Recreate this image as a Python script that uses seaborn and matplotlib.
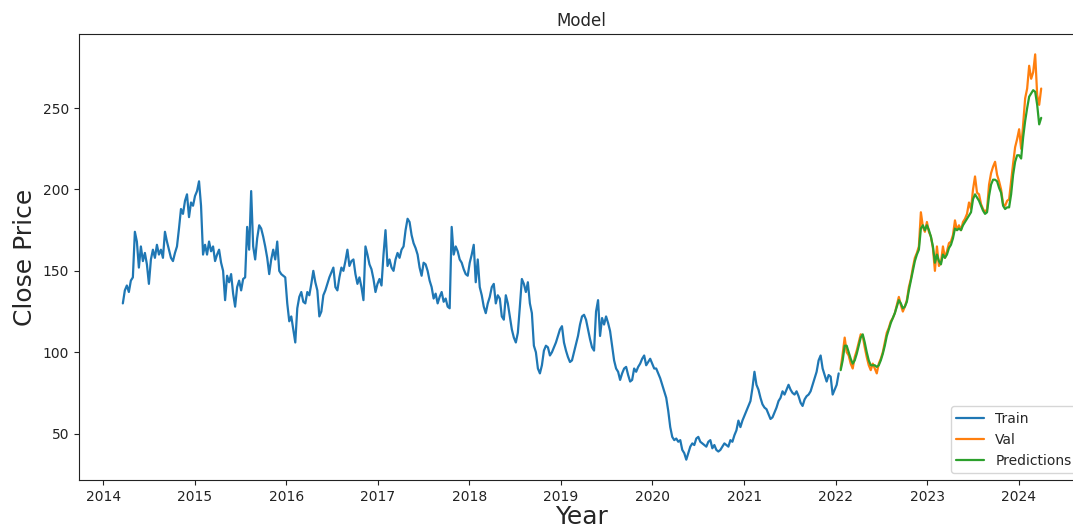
import numpy as np
import pandas as pd
import matplotlib
matplotlib.use("Agg")
import matplotlib.pyplot as plt
import seaborn as sns

# Close price, sampled every 8 days starting 2014-03-20 (training window)
train_close = [
    130, 138, 141, 137, 144, 146, 174, 168, 152, 165,
    156, 161, 154, 142, 157, 163, 158, 166, 160, 163,
    158, 174, 168, 163, 158, 156, 161, 165, 176, 188,
    185, 193, 197, 183, 192, 190, 196, 199, 205, 190,
    160, 166, 160, 168, 162, 165, 156, 160, 163, 155,
    150, 132, 147, 143, 148, 136, 128, 140, 144, 138,
    145, 146, 177, 163, 199, 165, 157, 170, 178, 176,
    171, 165, 158, 148, 157, 163, 157, 168, 150, 148,
    147, 146, 130, 119, 122, 114, 106, 127, 134, 137,
    131, 130, 137, 135, 142, 150, 143, 138, 122, 125,
    135, 138, 142, 146, 149, 152, 140, 138, 146, 152,
    150, 156, 163, 153, 156, 157, 148, 142, 146, 140,
    132, 165, 160, 154, 151, 145, 137, 142, 145, 141,
    160, 175, 153, 157, 152, 150, 157, 161, 158, 163,
    165, 175, 182, 180, 172, 167, 164, 160, 152, 147,
    155, 154, 150, 144, 140, 133, 136, 130, 134, 137,
    131, 133, 128, 127, 177, 160, 165, 162, 157, 155,
    151, 148, 147, 155, 160, 166, 143, 157, 140, 135,
    128, 124, 130, 134, 140, 142, 130, 135, 133, 122,
    120, 135, 130, 122, 114, 109, 106, 112, 128, 145,
    142, 137, 143, 130, 124, 104, 100, 90, 87, 92,
    101, 104, 103, 98, 100, 103, 106, 110, 114, 116,
    106, 101, 97, 94, 95, 100, 105, 110, 117, 122,
    123, 120, 114, 108, 103, 101, 125, 132, 110, 121,
    117, 122, 118, 113, 104, 95, 90, 88, 83, 87,
    90, 91, 86, 82, 83, 90, 88, 91, 93, 96,
    98, 92, 94, 96, 93, 90, 90, 87, 84, 80,
    76, 72, 64, 54, 48, 46, 47, 45, 46, 40,
    38, 34, 38, 42, 44, 43, 47, 48, 45, 44,
    43, 42, 45, 46, 41, 43, 40, 39, 40, 42,
    44, 43, 42, 46, 45, 49, 52, 58, 54, 58,
    61, 64, 67, 70, 78, 88, 80, 77, 72, 68,
    66, 65, 62, 59, 60, 63, 66, 70, 72, 76,
    74, 77, 80, 77, 75, 74, 76, 73, 69, 67,
    71, 73, 74, 76, 80, 84, 88, 95, 98, 90,
    86, 82, 86, 85, 74, 77, 80, 87,
]

# Validation window: actual close and model predictions
val_close = [
    90, 99, 109, 100, 98, 93, 90, 97, 101, 106,
    111, 110, 103, 97, 92, 89, 93, 90, 87, 93,
    96, 100, 106, 112, 115, 119, 121, 124, 129, 134,
    129, 125, 128, 132, 140, 145, 152, 158, 161, 165,
    186, 177, 174, 180, 174, 171, 164, 150, 165, 153,
    155, 165, 158, 162, 167, 168, 172, 181, 175, 178,
    175, 180, 182, 185, 192, 188, 200, 208, 198, 197,
    191, 188, 186, 188, 203, 210, 214, 217, 209, 205,
    200, 191, 190, 193, 194, 205, 216, 226, 231, 237,
    225, 240, 256, 262, 276, 268, 272, 283, 258, 252,
    262,
]

pred_close = [
    89, 95, 104, 104, 100, 96, 93, 95, 99, 104,
    109, 111, 106, 100, 95, 92, 92, 92, 91, 92,
    95, 99, 104, 110, 114, 118, 121, 124, 128, 132,
    130, 127, 128, 131, 138, 144, 150, 156, 160, 163,
    176, 178, 175, 178, 175, 171, 165, 155, 160, 156,
    154, 160, 158, 160, 164, 166, 170, 176, 175, 176,
    175, 178, 180, 182, 184, 186, 194, 197, 195, 193,
    190, 187, 185, 186, 196, 203, 206, 206, 205, 201,
    198, 190, 188, 189, 189, 197, 209, 217, 221, 221,
    219, 232, 242, 250, 257, 259, 261, 260, 252, 240,
    244,
]

train_dates = pd.date_range("2014-03-20", periods=len(train_close), freq="8D")
val_dates = pd.date_range(train_dates[-1] + pd.Timedelta(days=8),
                          periods=len(val_close), freq="8D")

train = pd.DataFrame({"Date": train_dates, "Close": train_close})
valid = pd.DataFrame({"Date": val_dates, "Close": val_close,
                      "Predictions": pred_close})

sns.set_style("ticks")
plt.rcParams["font.family"] = ["DejaVu Sans"]

fig = plt.figure(figsize=(10.73, 5.29), dpi=100)
ax = fig.add_axes([0.0736, 0.0926, 0.9367, 0.8431])

sns.lineplot(data=train, x="Date", y="Close", ax=ax, color="#1f77b4",
             linewidth=1.6, label="Train")
sns.lineplot(data=valid, x="Date", y="Close", ax=ax, color="#ff7f0e",
             linewidth=1.6, label="Val")
sns.lineplot(data=valid, x="Date", y="Predictions", ax=ax, color="#2ca02c",
             linewidth=1.6, label="Predictions")

ax.set_xlim(pd.Timestamp("2013-09-26"), pd.Timestamp("2024-09-18"))
ax.set_ylim(21.5, 295.5)
ax.set_yticks([50, 100, 150, 200, 250])
ax.xaxis.set_major_locator(matplotlib.dates.YearLocator())
ax.xaxis.set_major_formatter(matplotlib.dates.DateFormatter("%Y"))

ax.set_title("Model", fontsize=12)
ax.set_xlabel("Year", fontsize=18, labelpad=1)
ax.set_ylabel("Close Price", fontsize=18)
ax.tick_params(labelsize=10, colors="#222222")
for s in ax.spines.values():
    s.set_color("#222222")
    s.set_linewidth(0.8)

ax.legend(loc="lower right", fontsize=10, frameon=True)

fig.savefig("out.png", dpi=100)
